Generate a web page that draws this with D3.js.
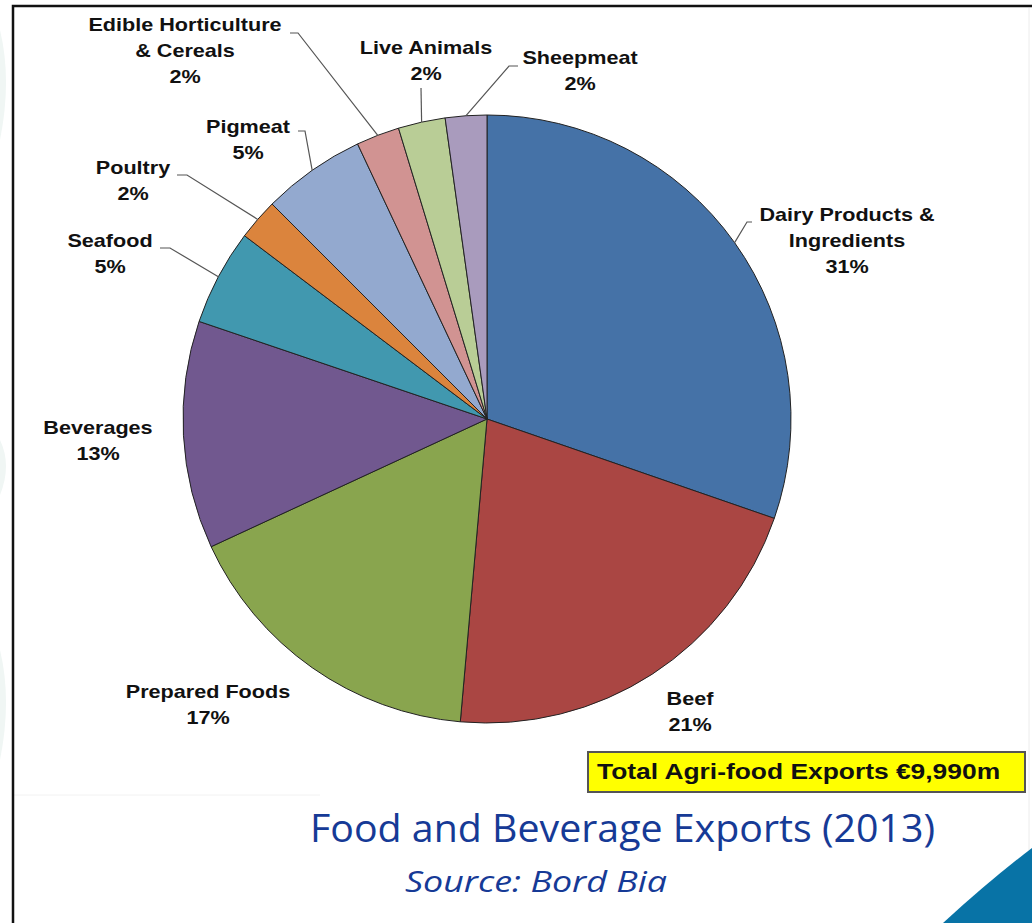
<!DOCTYPE html>
<html>
<head>
<meta charset="utf-8">
<script src="https://cdn.jsdelivr.net/npm/d3@7"></script>
<style>
  body { margin: 0; background: #fff; }
  svg { display: block; }
</style>
</head>
<body>
<svg id="chart" width="1032" height="923"></svg>
<script>
// export values, € million
var categories = ['Dairy Products & Ingredients', 'Beef', 'Prepared Foods', 'Beverages', 'Seafood',
   'Poultry', 'Pigmeat', 'Edible Horticulture & Cereals', 'Live Animals', 'Sheepmeat'];
var values = [3030, 2110, 1670, 1210, 510, 220, 550, 230, 250, 220];
var pctLabels = ['31%', '21%', '17%', '13%', '5%', '2%', '5%', '2%', '2%', '2%'];
var labelLines = [['Dairy Products &', 'Ingredients'], ['Beef'], ['Prepared Foods'], ['Beverages'], ['Seafood'],
   ['Poultry'], ['Pigmeat'], ['Edible Horticulture', '& Cereals'], ['Live Animals'], ['Sheepmeat']];
var colors = ['#4572A7', '#AA4643', '#89A54E', '#71588F', '#4198AF', '#DB843D', '#93A9CF', '#D19392', '#B9CD96', '#A99BBD'];
var totalText = 'Total Agri-food Exports €9,990m';

// label layout: text centre x, first baseline y, leader start (null = no leader)
var labelPos = [
   { x: 847, y: 221, lead: [[752, 222], [747, 222]] },
   { x: 690, y: 705, lead: null },
   { x: 208, y: 698, lead: null },
   { x: 98, y: 434, lead: null },
   { x: 110, y: 247, lead: [[160, 248], [170, 248]] },
   { x: 133, y: 174, lead: [[177, 175], [187, 175]] },
   { x: 248, y: 133, lead: [[298, 131], [305, 131]] },
   { x: 185, y: 31, lead: [[290, 33], [298, 33]] },
   { x: 426, y: 54, lead: [[421, 88]] },
   { x: 580, y: 64, lead: [[518, 66], [509, 66]] }
];

var svg = d3.select('#chart');
var cx = 487, cy = 419, r = 304;
var sx = 1.2; // text in the picture is drawn wide

// faint background shapes of the slide
svg.append('path').attr('d', 'M0,30 Q12,80 0,140 Z').attr('fill', '#f0f6f4');
svg.append('path').attr('d', 'M0,440 Q12,465 0,495 Z').attr('fill', '#f0f6f4');
svg.append('path').attr('d', 'M0,650 Q12,700 0,760 Z').attr('fill', '#f0f6f4');
svg.append('line').attr('x1', 1029).attr('x2', 1029).attr('y1', 8).attr('y2', 923)
   .attr('stroke', '#ececec').attr('stroke-width', 1);
svg.append('line').attr('x1', 14).attr('x2', 320).attr('y1', 795).attr('y2', 795)
   .attr('stroke', '#f2f2f2').attr('stroke-width', 1);
svg.append('path').attr('d', 'M943,923 Q990,880 1032,848 L1032,923 Z').attr('fill', '#0873A6');

// frame
svg.append('path').attr('d', 'M13,923 L13,6 L1032,6').attr('fill', 'none')
   .attr('stroke', '#111').attr('stroke-width', 2.5);

var pie = d3.pie().sort(null).value(function (d) { return d; });
var arcs = pie(values);
var arc = d3.arc().innerRadius(0).outerRadius(r);
var edge = d3.arc().innerRadius(r).outerRadius(r);

var g = svg.append('g').attr('transform', 'translate(' + cx + ',' + cy + ')');
g.selectAll('path.slice')
   .data(arcs)
   .enter()
   .append('path')
   .attr('class', 'slice')
   .attr('d', arc)
   .attr('fill', function (d, i) { return colors[i]; })
   .attr('stroke', '#222')
   .attr('stroke-width', 1);

// leader lines
arcs.forEach(function (d, i) {
   var p = labelPos[i];
   if (!p.lead) return;
   var c = edge.centroid(d);
   var pts = p.lead.concat([[cx + c[0], cy + c[1]]]);
   svg.append('path')
      .attr('d', d3.line()(pts))
      .attr('fill', 'none')
      .attr('stroke', '#555')
      .attr('stroke-width', 1.2);
});

// labels
function wideText(x, y, str, size, weight, anchor, fill) {
   return svg.append('g').attr('transform', 'translate(' + x + ',' + y + ') scale(' + sx + ',1)')
      .append('text')
      .attr('text-anchor', anchor)
      .attr('font-family', 'Liberation Sans, Arial, sans-serif')
      .attr('font-size', size)
      .attr('font-weight', weight)
      .attr('fill', fill)
      .text(str);
}

labelLines.forEach(function (lines, i) {
   var p = labelPos[i];
   var all = lines.concat([pctLabels[i]]);
   all.forEach(function (s, j) {
      wideText(p.x, p.y + j * 26, s, 18, 'bold', 'middle', '#111');
   });
});

// total box
svg.append('rect').attr('x', 588).attr('y', 752).attr('width', 437).attr('height', 40)
   .attr('fill', '#ffff00').attr('stroke', '#555').attr('stroke-width', 2);
wideText(597, 779, totalText, 22, 'bold', 'start', '#111');

// title
svg.append('text').attr('x', 310).attr('y', 842)
   .attr('font-family', 'Open Sans, sans-serif').attr('font-size', 38)
   .attr('fill', '#163a96')
   .attr('textLength', 625).attr('lengthAdjust', 'spacingAndGlyphs')
   .text('Food and Beverage Exports (2013)');
svg.append('text').attr('x', 405).attr('y', 892)
   .attr('font-family', 'Open Sans, sans-serif').attr('font-size', 29)
   .attr('font-style', 'italic')
   .attr('fill', '#163a96')
   .attr('textLength', 262).attr('lengthAdjust', 'spacingAndGlyphs')
   .text('Source: Bord Bia');
</script>
</body>
</html>
